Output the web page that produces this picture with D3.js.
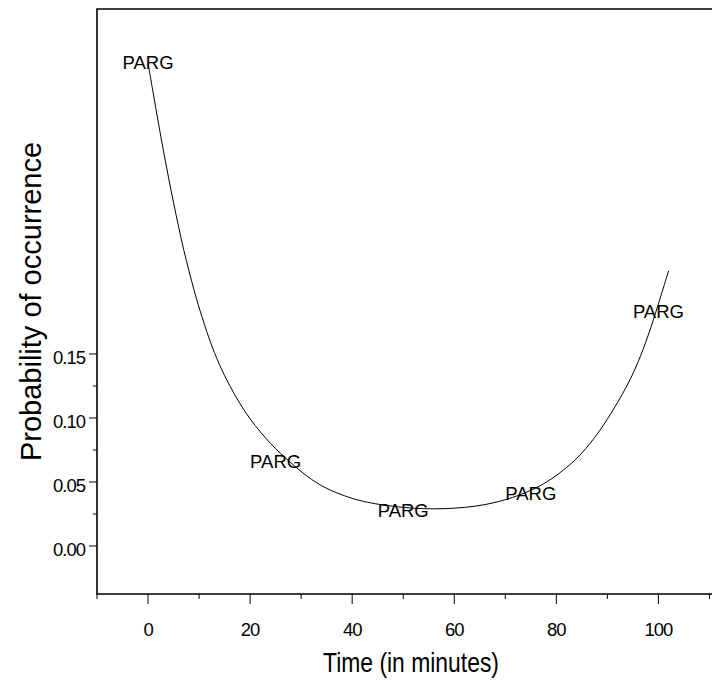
<!DOCTYPE html>
<html>
<head>
<meta charset="utf-8">
<script src="https://cdn.jsdelivr.net/npm/d3@7"></script>
<style>
  body { margin: 0; background: #fff; }
  svg { display: block; font-family: "Liberation Sans", Arial, sans-serif; }
</style>
</head>
<body>
<svg id="svg" width="712" height="680"></svg>
<script>
// fitted curve
const curveTime = [0, 1, 2, 3, 4, 5, 6, 7, 8, 9, 10, 12, 14, 16, 18, 20, 22, 24, 26, 28, 30,
  32, 34, 36, 38, 40, 43, 46, 50, 54, 58, 62, 66, 70, 73, 76, 79, 82, 85, 88, 90, 92, 94, 96, 98, 100, 102];
const curveProb = [0.377, 0.354, 0.331, 0.309, 0.288, 0.268, 0.249, 0.231, 0.215, 0.200, 0.186,
  0.161, 0.141, 0.125, 0.111, 0.099, 0.089, 0.080, 0.072, 0.065, 0.058, 0.052, 0.047, 0.043,
  0.040, 0.037, 0.034, 0.032, 0.030, 0.029, 0.029, 0.030, 0.032, 0.036, 0.040, 0.045, 0.052,
  0.061, 0.072, 0.087, 0.099, 0.112, 0.126, 0.143, 0.164, 0.189, 0.215];

// observed points, drawn as labels
const pointTime = [0, 25, 50, 75, 100];
const pointProb = [0.378, 0.066, 0.028, 0.041, 0.183];
const pointLabel = 'PARG';

const xTicks = [0, 20, 40, 60, 80, 100];
const xMinor = [-10, 10, 30, 50, 70, 90, 110];
const yTicks = [0, 0.05, 0.10, 0.15];
const yMinor = [0.025, 0.075, 0.125];

const plotLeft = 97, plotTop = 9, plotBottom = 594, plotRight = 712;

const x = d3.scaleLinear().domain([-10, 110.5]).range([plotLeft, plotRight]);
const y = d3.scaleLinear().domain([-0.0375, 0.4195]).range([plotBottom, plotTop]);

const svg = d3.select('#svg');

// frame: left, top and bottom lines (right side runs off the page)
svg.append('path')
  .attr('d', `M${plotRight},${plotTop}H${plotLeft}V${plotBottom}H${plotRight}`)
  .attr('fill', 'none')
  .attr('stroke', '#000')
  .attr('stroke-width', 1.6);

// x ticks
svg.selectAll('.xmaj').data(xTicks).enter().append('line')
  .attr('x1', d => x(d)).attr('x2', d => x(d))
  .attr('y1', plotBottom).attr('y2', plotBottom + 10)
  .attr('stroke', '#000');
svg.selectAll('.xmin').data(xMinor).enter().append('line')
  .attr('x1', d => x(d)).attr('x2', d => x(d))
  .attr('y1', plotBottom).attr('y2', plotBottom + 5)
  .attr('stroke', '#000');
svg.selectAll('.xlab').data(xTicks).enter().append('text')
  .attr('x', d => x(d)).attr('y', 636)
  .attr('text-anchor', 'middle')
  .attr('font-size', 18.5)
  .attr('letter-spacing', -1)
  .text(d => d);

// y ticks
svg.selectAll('.ymaj').data(yTicks).enter().append('line')
  .attr('x1', plotLeft - 8).attr('x2', plotLeft)
  .attr('y1', d => y(d)).attr('y2', d => y(d))
  .attr('stroke', '#000');
svg.selectAll('.ymin').data(yMinor).enter().append('line')
  .attr('x1', plotLeft - 4).attr('x2', plotLeft)
  .attr('y1', d => y(d)).attr('y2', d => y(d))
  .attr('stroke', '#000');
svg.selectAll('.ylab').data(yTicks).enter().append('text')
  .attr('x', 85).attr('y', d => y(d) + 10.5)
  .attr('text-anchor', 'end')
  .attr('font-size', 18.5)
  .attr('letter-spacing', -1)
  .text(d => d3.format('.2f')(d));

// axis titles
svg.append('text')
  .attr('x', 411).attr('y', 672)
  .attr('text-anchor', 'middle')
  .attr('font-size', 28)
  .attr('textLength', 176)
  .attr('lengthAdjust', 'spacingAndGlyphs')
  .text('Time (in minutes)');

svg.append('text')
  .attr('transform', `translate(41,${(plotTop + plotBottom) / 2}) rotate(-90)`)
  .attr('text-anchor', 'middle')
  .attr('font-size', 29)
  .text('Probability of occurrence');

// curve (basis keeps it smooth like the fitted line)
const line = d3.line()
  .x((d, i) => x(curveTime[i]))
  .y(d => y(d))
  .curve(d3.curveBasis);

svg.append('path')
  .datum(curveProb)
  .attr('d', line)
  .attr('fill', 'none')
  .attr('stroke', '#000')
  .attr('stroke-width', 1);

// point labels
svg.selectAll('.pt').data(pointTime).enter().append('text')
  .attr('x', d => x(d))
  .attr('y', (d, i) => y(pointProb[i]))
  .attr('dy', '0.36em')
  .attr('text-anchor', 'middle')
  .attr('font-size', 18.5)
  .text(pointLabel);
</script>
</body>
</html>
